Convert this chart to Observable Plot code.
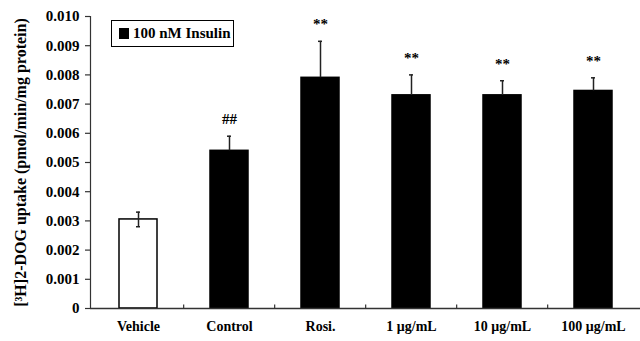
<!DOCTYPE html>
<html>
<head>
<meta charset="utf-8">
<script src="https://cdn.jsdelivr.net/npm/d3@7"></script>
<script src="https://cdn.jsdelivr.net/npm/@observablehq/plot@0.6"></script>
<style>
  html, body { margin: 0; padding: 0; background: #fff; }
  #wrap { position: relative; width: 640px; height: 341px; }
  #legend {
    position: absolute; left: 111px; top: 20px; width: 121px; height: 25px;
    border: 1.5px solid #000; box-sizing: content-box;
    font: bold 15px "Liberation Serif", "Times New Roman", serif;
    display: flex; align-items: center; white-space: nowrap;
  }
  #legend .sw { display: inline-block; width: 10px; height: 11px; background: #000; margin: 0 4px 0 7px; }
</style>
</head>
<body>
<div id="wrap"><div id="legend"><span class="sw"></span><span>100 nM Insulin</span></div></div>
<script>
const categories = ["Vehicle", "Control", "Rosi.", "1 μg/mL", "10 μg/mL", "100 μg/mL"];
const means      = [0.00305, 0.0054, 0.0079, 0.0073, 0.0073, 0.00745];
const errors     = [0.00025, 0.0005, 0.00125, 0.0007, 0.0005, 0.00045];
const insulin    = [false, true, true, true, true, true];
const marks      = ["", "##", "**", "**", "**", "**"];
const yTicks     = [0, 0.001, 0.002, 0.003, 0.004, 0.005, 0.006, 0.007, 0.008, 0.009, 0.010];

const data = categories.map((c, i) => ({
  cat: c, mean: means[i], err: errors[i], ins: insulin[i], mark: marks[i],
  lo: means[i] - errors[i], hi: means[i] + errors[i]
}));

const W = 640, ML = 90, MR = 0;
const step = (W - ML - MR) / categories.length;
const padInner = 0.586;
const bw = step * (1 - padInner);
const capHalf = 2;

const chart = Plot.plot({
  width: W, height: 341,
  marginLeft: ML, marginRight: MR, marginTop: 16, marginBottom: 33,
  style: { fontFamily: "'Liberation Serif', 'Times New Roman', serif", fontWeight: "bold", fontSize: "15px", color: "#000", background: "#fff" },
  x: { domain: categories, paddingInner: padInner, paddingOuter: padInner / 2 },
  y: { domain: [0, 0.010] },
  marks: [
    Plot.axisY({ ticks: yTicks, tickSize: 5, tickPadding: 6, fontSize: 15, tickFormat: d => d === 0 ? "0" : d3.format(".3f")(d),
      label: null, stroke: "#333", strokeWidth: 1.2 }),
    Plot.axisY({ ticks: [], tickSize: 0, label: "[³H]2-DOG uptake (pmol/min/mg protein)", labelAnchor: "center", labelArrow: "none",
      labelOffset: 76, fontSize: 16 }),
    Plot.axisX({ tickSize: 0, tickPadding: 13, fontSize: 14, label: null }),
    Plot.barY(data, { x: "cat", y: "mean", fill: d => d.ins ? "#000" : "#fff", stroke: "#000", strokeWidth: 1.5 }),
    Plot.ruleX(data, { x: "cat", y1: d => d.ins ? d.mean : d.lo, y2: "hi", stroke: "#222", strokeWidth: 1.5 }),
    Plot.tickY(data, { x: "cat", y: "hi", stroke: "#222", strokeWidth: 1.5, insetLeft: bw / 2 - capHalf, insetRight: bw / 2 - capHalf }),
    Plot.tickY(data.filter(d => !d.ins), { x: "cat", y: "lo", stroke: "#222", strokeWidth: 1.5, insetLeft: bw / 2 - capHalf, insetRight: bw / 2 - capHalf }),
    Plot.text(data, { x: "cat", y: "hi", text: "mark", dy: -17, fontSize: 15, fontWeight: "bold", fill: "#000" }),
    Plot.ruleX(categories.slice(1), { x: d => d, dx: -step / 2, y1: 0, y2: 0.00012, stroke: "#333", strokeWidth: 1.2 }),
    Plot.ruleY([0], { stroke: "#333", strokeWidth: 1.5 }),
    Plot.frame({ anchor: "left", stroke: "#333", strokeWidth: 1.2 })
  ]
});
document.getElementById("wrap").prepend(chart);
</script>
</body>
</html>
